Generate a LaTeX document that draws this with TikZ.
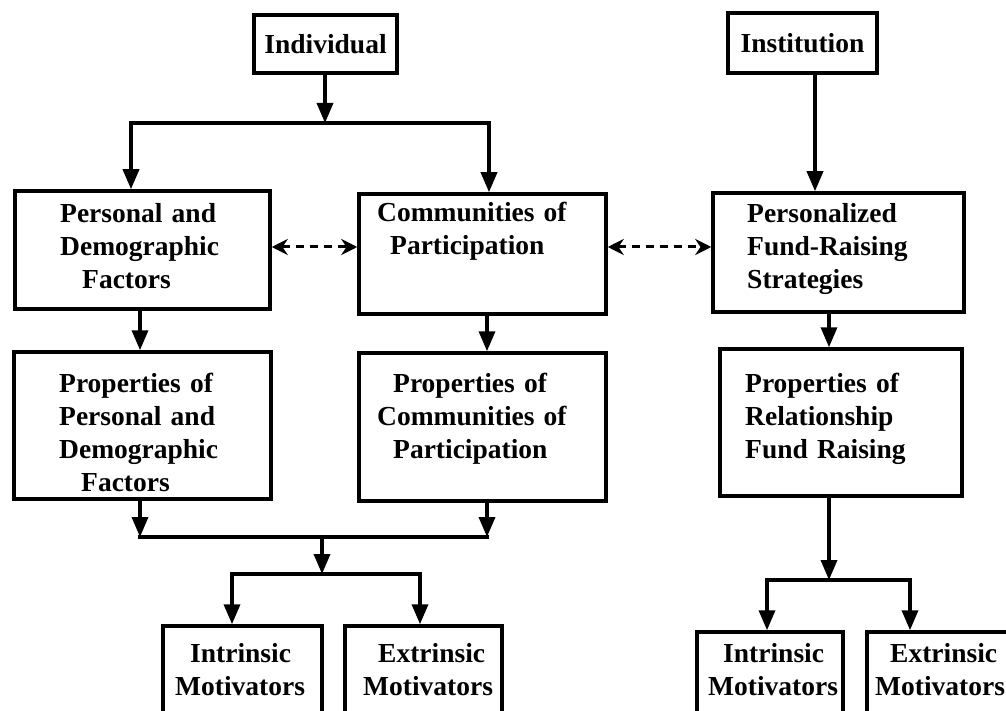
\documentclass[tikz,border=0pt]{standalone}
\usepackage{fontspec}
\setmainfont{Liberation Serif}
\usetikzlibrary{arrows.meta}

\begin{document}
\begin{tikzpicture} [
        x=1pt, y=-1pt,
        boxnode/.style={
            rectangle,
            draw,
            line width=3.5pt,
            inner sep=0pt,
            font=\bfseries\fontsize{27.5}{33}\selectfont
        },
        textnode/.style={
            anchor=base west,
            inner sep=0pt,
            text width=250pt,
            align=left,
            font=\bfseries\fontsize{27.5}{33}\selectfont
        },
        plainline/.style={line width=3.5pt, line cap=rect},
        arrowline/.style={line width=3.5pt, -{Triangle[length=20pt,width=16pt]}},
        dashline/.style={
            line width=3pt,
            dash pattern=on 8pt off 6pt,
            {Stealth[length=16pt,width=16pt]}-{Stealth[length=16pt,width=16pt]}
        }
    ]

        \useasboundingbox (0,0) rectangle (1006,711);
        \clip (0,0) rectangle (1006,711);

        % top row
        \node[boxnode, minimum width=143pt, minimum height=58pt] (indiv) at (325.5,44)  {Individual};
        \node[boxnode, minimum width=149pt, minimum height=60pt] (inst)  at (802.5,43)  {Institution};

        % second row
        \node[boxnode, minimum width=255pt, minimum height=118pt] (personal) at (142.5,250)   {};
        \node[boxnode, minimum width=247pt, minimum height=120pt] (comm)     at (482.5,254)   {};
        \node[boxnode, minimum width=251pt, minimum height=119pt] (perz)     at (838.5,252.5) {};

        \node[textnode] (personal-t) at (60,223)  {Personal and\\Demographic\\\hspace*{22pt}Factors};
        \node[textnode] (comm-t)     at (377,222) {Communities of\\\hspace*{13pt}Participation};
        \node[textnode] (perz-t)     at (747,223) {Personalized\\Fund-Raising\\Strategies};

        % third row
        \node[boxnode, minimum width=257pt, minimum height=147pt] (ppers) at (142.5,425.5) {};
        \node[boxnode, minimum width=247pt, minimum height=148pt] (pcomm) at (482.5,427)   {};
        \node[boxnode, minimum width=242pt, minimum height=147pt] (prel)  at (841,422.5)   {};

        \node[textnode] (ppers-t) at (59,392)  {Properties of\\Personal and\\Demographic\\\hspace*{22pt}Factors};
        \node[textnode] (pcomm-t) at (377,392) {\hspace*{16pt}Properties of\\Communities of\\\hspace*{16pt}Participation};
        \node[textnode] (prel-t)  at (745,392) {Properties of\\Relationship\\Fund Raising};

        % motivators
        \node[boxnode, minimum width=159pt, minimum height=114pt] (intl) at (242.5,683) {};
        \node[boxnode, minimum width=157pt, minimum height=114pt] (extl) at (423.5,683) {};
        \node[boxnode, minimum width=146pt, minimum height=108pt] (intr) at (770,686)   {};
        \node[boxnode, minimum width=148pt, minimum height=108pt] (extr) at (941,686)   {};

        \node[textnode] (intl-t) at (175,662) {\hspace*{15pt}Intrinsic\\Motivators};
        \node[textnode] (extl-t) at (363,662) {\hspace*{15pt}Extrinsic\\Motivators};
        \node[textnode] (intr-t) at (708,662) {\hspace*{15pt}Intrinsic\\Motivators};
        \node[textnode] (extr-t) at (875,662) {\hspace*{15pt}Extrinsic\\Motivators};

        % branch points
        \coordinate (fork1)  at (325,123);
        \coordinate (fork1L) at (131,123);
        \coordinate (fork1R) at (489,123);
        \coordinate (merge)  at (322,537);
        \coordinate (mergeL) at (140,537);
        \coordinate (mergeR) at (487,537);
        \coordinate (fork2)  at (322,574);
        \coordinate (fork2L) at (232,574);
        \coordinate (fork2R) at (420,574);
        \coordinate (fork3)  at (829,580);
        \coordinate (fork3L) at (767,580);
        \coordinate (fork3R) at (910,580);
        \coordinate (dashrow) at (0,247);

        % individual side
        \draw[arrowline] (indiv.south -| fork1) -- (fork1);
        \draw[arrowline] (fork1) -| (fork1L |- personal.north);
        \draw[arrowline] (fork1) -| (fork1R |- comm.north);
        \draw[arrowline] (personal.south -| mergeL) -- (ppers.north -| mergeL);
        \draw[arrowline] (comm.south -| mergeR) -- (pcomm.north -| mergeR);
        \draw[arrowline] (ppers.south -| mergeL) -- (mergeL);
        \draw[arrowline] (pcomm.south -| mergeR) -- (mergeR);
        \draw[plainline] (mergeL) -- (mergeR);
        \draw[arrowline] (merge) -- (fork2);
        \draw[arrowline] (fork2) -| (fork2L |- intl.north);
        \draw[arrowline] (fork2) -| (fork2R |- extl.north);

        % institution side
        \draw[arrowline] ([xshift=12.5pt]inst.south) -- ([xshift=12.5pt]inst.south |- perz.north);
        \draw[arrowline] (perz.south -| fork3) -- (prel.north -| fork3);
        \draw[arrowline] (prel.south -| fork3) -- (fork3);
        \draw[arrowline] (fork3) -| (fork3L |- intr.north);
        \draw[arrowline] (fork3) -| (fork3R |- extr.north);

        % dashed links
        \draw[dashline] (personal.east |- dashrow) -- (comm.west |- dashrow);
        \draw[dashline] (comm.east |- dashrow) -- (perz.west |- dashrow);

    \end{tikzpicture}
\end{document}
